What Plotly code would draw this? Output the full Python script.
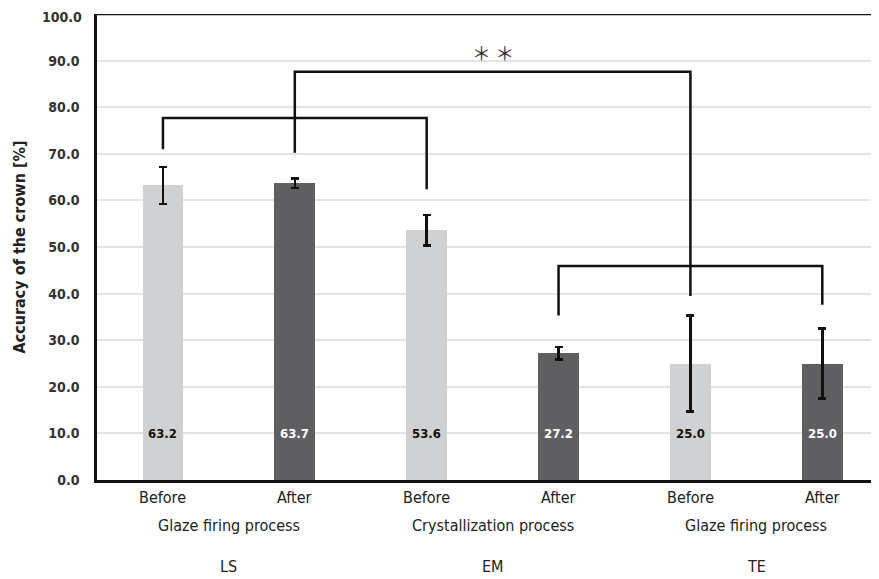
import plotly.graph_objects as go

categories = ["LS Before", "LS After", "EM Before", "EM After", "TE Before", "TE After"]
tick_labels = ["Before", "After", "Before", "After", "Before", "After"]
values = [63.2, 63.7, 53.6, 27.2, 25.0, 25.0]
errors = [4.0, 1.0, 3.3, 1.3, 10.3, 7.5]
process_labels = ["Glaze firing process", "Crystallization process", "Glaze firing process"]
material_labels = ["LS", "EM", "TE"]
y_ticks = [0, 10, 20, 30, 40, 50, 60, 70, 80, 90, 100]

LIGHT = "#d0d1d3"
DARK = "#5f5f61"
colors = [LIGHT, DARK, LIGHT, DARK, LIGHT, DARK]
FONT = "Liberation Sans Narrow, DejaVu Sans Condensed, Open Sans, sans-serif"

xs = list(range(len(categories)))

fig = go.Figure()
fig.add_trace(go.Bar(
    x=xs, y=values, width=0.31,
    marker=dict(color=colors, line=dict(width=0)),
    error_y=dict(type="data", array=errors, color="#111111", thickness=2.5, width=4),
    hoverinfo="skip", showlegend=False,
))

# data labels
for i, v in enumerate(values):
    fig.add_annotation(x=xs[i], y=10, xref="x", yref="y", text=f"<b>{v:.1f}</b>",
                       showarrow=False, font=dict(family=FONT, size=13,
                       color="#111111" if colors[i] == LIGHT else "#ffffff"))

# x tick labels
for i, t in enumerate(tick_labels):
    fig.add_annotation(x=xs[i], y=-0.037, xref="x", yref="paper", text=t, showarrow=False,
                       yanchor="middle", font=dict(family=FONT, size=16, color="#222222"))
for g in range(3):
    xc = (xs[2 * g] + xs[2 * g + 1]) / 2
    fig.add_annotation(x=xc, y=-0.097, xref="x", yref="paper", text=process_labels[g],
                       showarrow=False, yanchor="middle",
                       font=dict(family=FONT, size=16, color="#222222"))
    fig.add_annotation(x=xc, y=-0.185, xref="x", yref="paper", text=material_labels[g],
                       showarrow=False, yanchor="middle",
                       font=dict(family=FONT, size=16, color="#222222"))

# significance brackets
def bracket(x0, y0, x1, y1, ytop):
    path = f"M {x0} {y0} L {x0} {ytop} L {x1} {ytop} L {x1} {y1}"
    fig.add_shape(type="path", path=path, xref="x", yref="y",
                  line=dict(color="#111111", width=2.5))

bracket(0, 71.0, 2, 62.4, 77.7)
bracket(1, 70.2, 4, 39.5, 87.6)
bracket(3, 35.3, 5, 37.6, 45.9)

fig.add_annotation(x=2.5, y=91.8, xref="x", yref="y", text="＊ ＊", showarrow=False,
                   font=dict(family="Noto Sans CJK JP", size=19, color="#333333"))

# top border
fig.add_shape(type="line", xref="paper", yref="y", x0=0, x1=1, y0=100, y1=100,
              line=dict(color="#111111", width=2.5))

# top tick label (would be clipped as a regular tick label)
fig.add_annotation(x=0, y=y_ticks[-1], xref="paper", yref="y", xanchor="right",
                   yanchor="middle", xshift=-13, yshift=-3, showarrow=False,
                   text=f"<b>{y_ticks[-1]:.1f}</b>",
                   font=dict(family=FONT, size=14, color="#333333"))

fig.update_layout(
    width=871, height=571,
    margin=dict(l=89, r=0, t=6, b=99),
    paper_bgcolor="white", plot_bgcolor="white",
    bargap=0,
    xaxis=dict(range=[-0.5, 5.43], showticklabels=False, showgrid=False, zeroline=False,
               showline=True, linecolor="#111111", linewidth=2.5, ticks=""),
    yaxis=dict(range=[0, 100], tickvals=y_ticks[:-1],
               ticktext=[f"<b>{t:.1f}</b>" for t in y_ticks[:-1]],
               showgrid=True, gridcolor="#e3e3e3", gridwidth=1.5, zeroline=False,
               showline=True, linecolor="#111111", linewidth=2.5, ticks="",
               ticklabelstandoff=12,
               tickfont=dict(family=FONT, size=14, color="#333333"),
               title=dict(text="<b>Accuracy of the crown [%]</b>",
                          font=dict(family=FONT, size=16, color="#222222"), standoff=19)),
)

fig.write_html("out.html")
